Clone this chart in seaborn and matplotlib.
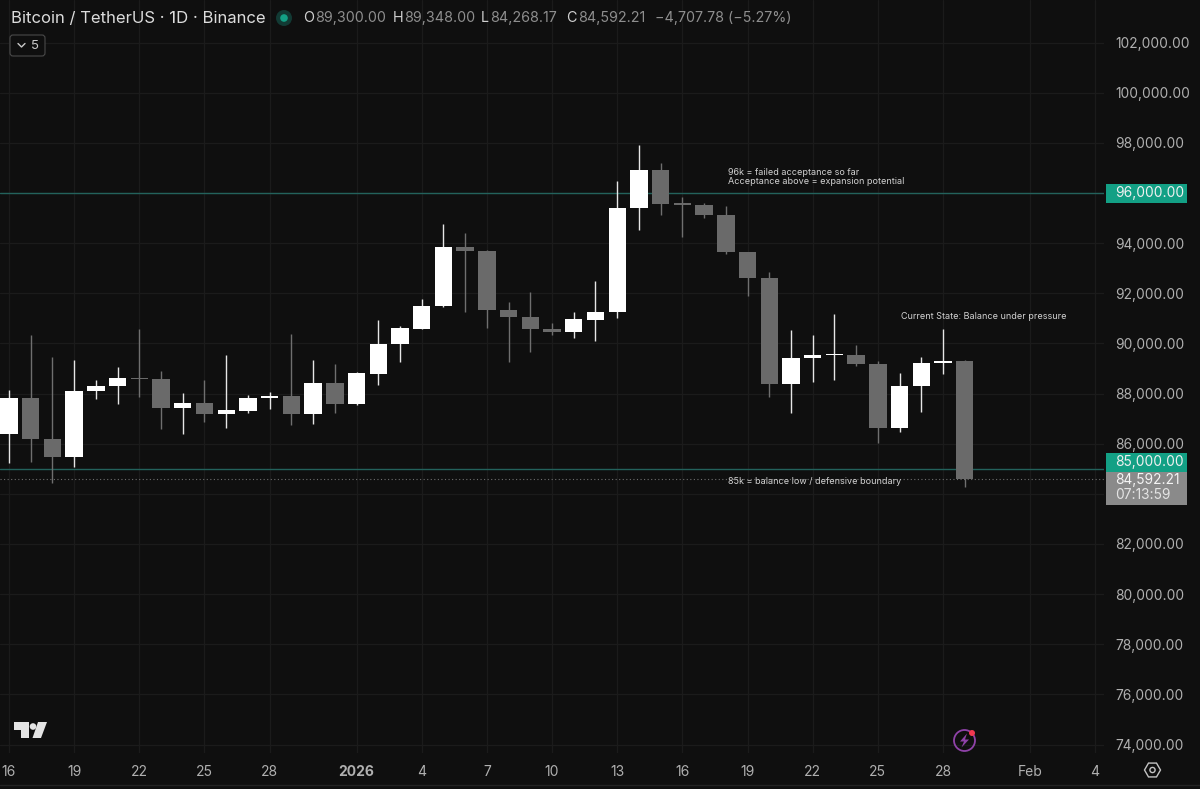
import numpy as np
import pandas as pd
import matplotlib
matplotlib.use("Agg")
import matplotlib.pyplot as plt
from matplotlib.patches import Circle, FancyBboxPatch, Polygon, Rectangle, RegularPolygon
import seaborn as sns

# daily candles, day 0 = 16 Dec
opens = [86374, 87835, 86187, 85469, 88090, 88301, 88632, 88580, 87424, 87635, 87172, 87320, 87811, 87902, 87184,
         88433, 87595, 88768, 89965, 90587, 91492, 93834, 93698, 91321, 91042, 90587, 90443, 90946, 91241, 95390,
         96917, 95589, 95521, 95122, 93634, 92597, 88381, 89418, 89538, 89550, 89179, 86614, 88290, 89207, 89300]
highs = [88142, 90336, 89446, 89350, 88541, 89047, 90563, 88911, 88010, 88541, 89526, 87930, 88050, 90387, 89350,
         89167, 88872, 90922, 90707, 91772, 94763, 94416, 93720, 91640, 92063, 90802, 91241, 92490, 96467, 97915,
         97209, 95852, 95613, 95493, 93660, 92837, 90535, 90324, 91185, 89925, 89287, 88808, 89470, 90563, 89348]
lows = [85218, 85257, 84420, 85070, 87771, 87571, 87850, 86574, 86374, 86877, 86614, 87224, 87396, 86757, 86797,
        87212, 87563, 88341, 89271, 90587, 91450, 91241, 90627, 89271, 89669, 90336, 90204, 90084, 91014, 94524,
        95110, 94257, 94991, 93567, 91903, 87850, 87212, 88473, 88529, 89111, 86015, 86478, 87264, 88792, 84268.17]
closes = [87835, 86187, 85469, 88090, 88301, 88608, 88580, 87424, 87635, 87172, 87332, 87835, 87914, 87184, 88433,
          87595, 88808, 89965, 90603, 91492, 93834, 93698, 91321, 91042, 90587, 90443, 90962, 91241, 95390, 96917,
          95573, 95521, 95122, 93634, 92597, 88381, 89418, 89526, 89590, 89167, 86614, 88313, 89207, 89287, 84592.21]

level_high = 96000
level_low = 85000
last_price = 84592.21

price_ticks = list(range(74000, 104000, 2000))
date_ticks = [0, 3, 6, 9, 12, 16, 19, 22, 25, 28, 31, 34, 37, 40, 43, 47, 50]
date_labels = ["16", "19", "22", "25", "28", "2026", "4", "7", "10", "13", "16", "19", "22", "25", "28", "Feb", "4"]

BG = "#0f0f0f"
GRID = "#1b1b1b"
WHITE = "#ffffff"
GRAY = "#6a6a6a"
TEAL = "#13a085"
TEXT = "#b0b0b0"
LEVEL = "#23625c"

sns.set_theme(style="dark", rc={"axes.facecolor": BG, "figure.facecolor": BG, "savefig.facecolor": BG})
plt.rcParams["font.family"] = ["Inter", "DejaVu Sans"]

df = pd.DataFrame({"day": range(len(opens)), "open": opens, "high": highs, "low": lows, "close": closes})
df["up"] = df["close"] >= df["open"]
df["bottom"] = df[["open", "close"]].min(axis=1)
df["body"] = (df["close"] - df["open"]).abs()

fig = plt.figure(figsize=(12, 7.89), dpi=100)
ax = fig.add_axes([0, 1 - 753 / 789, 1104 / 1200, 753 / 789])

# wicks
wicks = df.melt(id_vars=["day", "up"], value_vars=["low", "high"], value_name="price")
for up, col, lw in [(True, "#e6e6e6", 1.0), (False, "#6f6f6f", 1.0)]:
    sns.lineplot(data=wicks[wicks["up"] == up], x="day", y="price", units="day", estimator=None, sort=False,
                 color=col, lw=lw, ax=ax, zorder=3, solid_capstyle="butt")

# bodies
for up, col in [(True, WHITE), (False, GRAY)]:
    part = df[df["up"] == up]
    sns.barplot(x=part["day"], y=part["body"], bottom=part["bottom"], native_scale=True, width=0.8,
                color=col, saturation=1, errorbar=None, ax=ax, zorder=4, linewidth=0)

ax.axhline(level_high, color=LEVEL, lw=1, zorder=2)
ax.axhline(level_low, color=LEVEL, lw=1, zorder=2)
ax.axhline(last_price, color="#6e6e6e", lw=0.8, ls=(0, (1, 2.2)), zorder=2)

ax.set_xlim(-0.414, 50.41)
ax.set_ylim(73662, 103699)
ax.set_xlabel("")
ax.set_ylabel("")
ax.set_xticks(date_ticks)
ax.set_xticklabels(date_labels)
ax.set_yticks(price_ticks)
# 84k and 96k sit under the coloured price boxes
ax.set_yticklabels(["" if p in (84000, 96000) else "{:,.2f}".format(p) for p in price_ticks])
ax.yaxis.tick_right()
ax.tick_params(axis="both", length=0, labelcolor=TEXT, labelsize=10)
ax.tick_params(axis="y", pad=8.3, labelsize=9.9)
ax.tick_params(axis="x", pad=9)
ax.get_xticklabels()[5].set_fontweight("bold")
ax.grid(True, color=GRID, lw=0.9)
ax.set_axisbelow(True)
sns.despine(ax=ax, left=True, bottom=True, right=True, top=True)

# overlay in pixels for the TradingView furniture
ov = fig.add_axes([0, 0, 1, 1], facecolor="none")
ov.set_xlim(0, 1200)
ov.set_ylim(789, 0)
ov.axis("off")

ov.plot([0, 1200], [785, 785], color="#232323", lw=1)

ov.text(11, 18, "Bitcoin / TetherUS · 1D · Binance", color="#dcdcdc", fontsize=12, va="center")
ov.add_patch(Circle((284, 18), 8, color="#123a34", lw=0))
ov.add_patch(Circle((284, 18), 3.8, color=TEAL, lw=0))
for x, vx, letter, val in [(303.5, 315, "O", "89,300.00"), (393, 404, "H", "89,348.00"),
                           (481, 490, "L", "84,268.17"), (566.5, 578, "C", "84,592.21")]:
    ov.text(x, 18, letter, color="#d0d0d0", fontsize=10.3, va="center")
    ov.text(vx, 18, val, color="#8e8e8e", fontsize=10.3, va="center")
ov.text(655, 18, "\u22124,707.78 (\u22125.27%)", color="#8e8e8e", fontsize=10.3, va="center")

ov.add_patch(FancyBboxPatch((10, 35), 35, 21, boxstyle="round,pad=0,rounding_size=3", fc=BG, ec="#4a4a4a", lw=0.8))
ov.plot([18, 21.5, 25], [43.5, 47, 43.5], color="#c8c8c8", lw=1)
ov.text(35.5, 45.5, "5", color="#c8c8c8", fontsize=9.5, va="center", ha="center")

# right price labels
ov.add_patch(Rectangle((1106, 184), 81, 18.5, color=TEAL, lw=0))
ov.text(1115.5, 193, "96,000.00", color="#f0f0f0", fontsize=9.9, va="center")
ov.add_patch(Rectangle((1106, 453), 81, 19, color=TEAL, lw=0))
ov.text(1115.5, 461.5, "85,000.00", color="#f0f0f0", fontsize=9.9, va="center")
ov.add_patch(Rectangle((1106, 472), 81, 32.5, color="#8a8a8a", lw=0))
ov.text(1115.5, 480, "84,592.21", color="#f4f4f4", fontsize=9.9, va="center")
ov.text(1115.5, 495, "07:13:59", color="#e4e4e4", fontsize=9.9, va="center")

# notes on the chart
note = dict(color="#d2d2d2", fontsize=6.5, va="center")
ov.text(728, 172, "96k = failed acceptance so far", **note)
ov.text(728, 181, "Acceptance above = expansion potential", **note)
ov.text(728, 481.5, "85k = balance low / defensive boundary", **note)
ov.text(901, 316, "Current State: Balance under pressure", **note)

# logo
ov.add_patch(Polygon([(14, 722), (28.5, 722), (28.5, 738), (21, 738), (21, 729.5), (14, 729.5)], color="#e4e4e4", lw=0))
ov.add_patch(Circle((33, 726.5), 3.3, color="#e4e4e4", lw=0))
ov.add_patch(Polygon([(38, 722), (47, 722), (41, 738), (32.5, 738)], color="#e4e4e4", lw=0))

# bolt badge
ov.add_patch(Circle((964.5, 740.5), 10.5, fc="none", ec="#8f42a8", lw=1.3))
ov.add_patch(Polygon([(967, 733.5), (960, 741.5), (964, 741.5), (961.5, 747.5), (969, 739.5), (965, 739.5)], color="#8f42a8", lw=0))
ov.add_patch(Circle((972, 733), 3, color="#f0384f", lw=0))

# settings hexagon
ov.add_patch(RegularPolygon((1152.5, 770), 6, radius=8, orientation=np.pi / 6, fc="none", ec="#c4c4c4", lw=1))
ov.add_patch(Circle((1152.5, 770), 2.6, fc="none", ec="#c4c4c4", lw=1))

fig.savefig("out.png", dpi=100)
